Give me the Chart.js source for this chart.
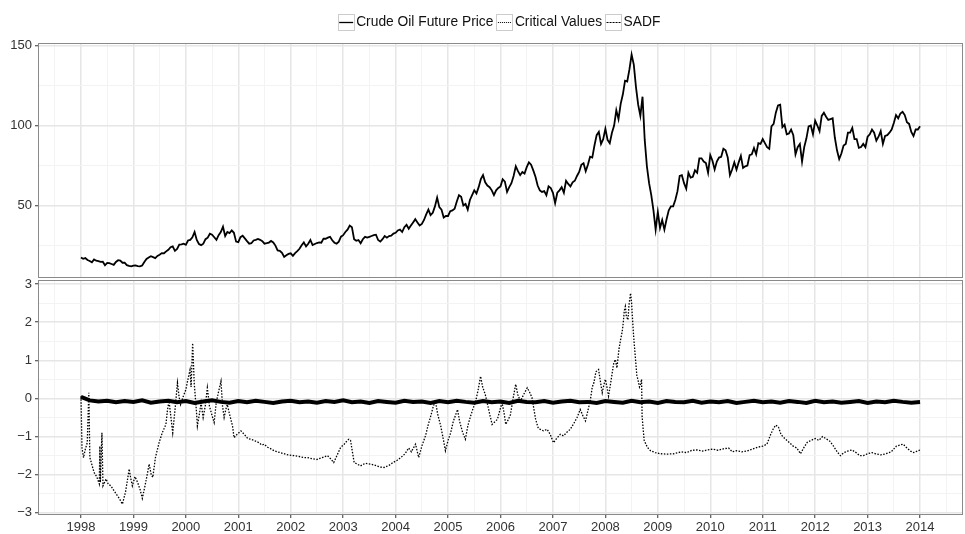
<!DOCTYPE html>
<html>
<head>
<meta charset="utf-8">
<script src="https://cdn.jsdelivr.net/npm/chart.js@4"></script>
<style>
html,body{margin:0;padding:0;background:#fff;}
#wrap{position:relative;width:965px;height:534px;overflow:hidden;}
canvas{position:absolute;left:0;}
#top{top:0;}
#bot{top:279px;}
</style>
</head>
<body>
<div id="wrap">
<canvas id="top" width="965" height="279"></canvas>
<canvas id="bot" width="965" height="255"></canvas>
</div>
<script>
// ---------- DATA ----------
const seriesNames = ['Crude Oil Future Price', 'Critical Values', 'SADF'];
const yearTicks = [1998,1999,2000,2001,2002,2003,2004,2005,2006,2007,2008,2009,2010,2011,2012,2013,2014];
const priceTicksMajor = [50, 100, 150];
const priceTicksMinor = [25, 75, 125];
const sadfTicksMajor = [-3, -2, -1, 0, 1, 2, 3];
const sadfTicksMinor = [-2.5, -1.5, -0.5, 0.5, 1.5, 2.5];

// Crude oil price, two readings per month (start / middle), Jan 1998 .. Dec 2013, plus Jan 2014
const priceStartYear = 1998;
const priceReadingsPerYear = 24;
const priceValues = [
  17.6,16.8,17.2,16.0,15.4,14.6,16.4,15.6,15.3,14.8,14.9,12.7,14.2,14.0,13.5,13.0,14.8,15.9,15.6,14.3,14.4,12.8,12.3,12.0,
  12.5,12.6,12.2,12.0,12.6,14.8,16.7,17.6,18.4,17.8,17.2,18.6,19.3,20.3,20.2,21.4,22.4,24.0,24.5,21.7,22.9,25.6,25.8,26.2,
  25.5,28.2,28.6,30.2,33.5,28.5,26.0,25.3,26.2,29.0,30.0,32.4,31.8,30.2,28.6,31.5,33.5,36.8,31.0,33.5,32.8,34.5,33.0,27.5,
  27.2,30.3,31.2,29.5,27.8,26.2,26.5,28.2,28.6,29.2,28.6,27.8,26.2,26.5,26.9,27.9,27.0,25.0,22.0,21.8,20.5,18.0,19.0,19.8,
  20.2,18.6,20.3,21.5,23.0,25.2,27.0,24.5,26.2,28.5,25.3,26.0,26.6,27.0,26.8,29.4,29.3,30.0,30.5,28.3,26.8,26.2,27.5,30.6,
  31.5,33.5,35.0,37.5,36.5,29.0,28.0,28.5,26.5,29.0,30.5,30.0,30.5,31.0,31.5,31.8,28.5,27.5,29.0,31.0,30.0,31.0,31.2,32.5,
  33.0,34.5,35.0,33.5,36.5,38.0,35.5,37.5,39.5,41.5,39.5,37.5,38.5,41.0,44.5,47.5,44.0,45.5,49.5,55.0,49.0,47.5,42.5,43.5,
  43.5,46.5,47.0,48.0,52.5,56.5,55.5,50.0,51.0,47.5,53.5,56.5,59.5,57.5,61.5,66.5,69.0,64.5,62.5,61.5,59.5,56.5,59.5,61.0,
  62.0,66.5,65.0,58.5,61.5,64.0,68.5,74.5,71.5,69.0,71.0,70.0,74.0,77.0,75.5,72.0,68.0,62.5,59.5,58.5,59.0,56.5,62.0,61.0,
  58.0,51.5,58.0,59.5,61.5,58.0,65.5,63.5,62.0,64.5,65.5,68.5,71.0,75.5,76.5,71.5,75.5,80.5,80.0,87.5,94.0,96.0,88.5,91.5,
  98.0,91.0,89.0,95.5,100.0,109.5,104.0,113.5,119.5,128.0,127.5,135.0,144.3,138.0,124.0,113.0,106.0,118.0,91.0,74.5,64.0,56.5,47.0,35.0,
  46.0,36.0,41.0,35.0,41.5,47.0,49.5,49.5,53.5,59.0,68.5,69.0,64.0,60.5,70.5,67.5,68.0,72.0,70.5,79.5,79.5,77.5,76.5,70.5,
  81.5,78.0,72.5,77.5,80.0,80.5,85.5,84.5,80.0,69.0,72.5,77.0,72.5,77.0,81.0,73.5,74.5,75.0,81.5,82.0,86.0,82.0,89.0,88.5,
  91.5,89.0,86.5,85.5,99.5,101.0,108.0,112.5,113.0,99.0,100.5,94.5,95.0,97.5,94.0,82.0,86.5,88.5,77.5,86.5,92.0,99.5,100.0,94.5,
  103.0,100.0,96.5,106.0,108.0,105.5,103.5,104.0,104.5,92.5,84.5,79.0,82.5,87.5,88.5,95.5,95.5,98.5,91.5,91.5,86.0,86.5,88.5,86.5,
  93.0,94.5,97.5,95.5,90.5,93.0,96.5,88.5,93.5,94.0,95.5,97.5,101.5,106.5,104.5,107.5,108.5,106.5,102.0,101.0,96.0,93.5,97.5,97.5,
  99.5
];

// Critical values, one reading every two months, 1998.0 .. 2014.0
const critStartYear = 1998;
const critReadingsPerYear = 6;
const critValues = [
  0.04,-0.05,-0.08,-0.06,-0.10,-0.07,
  -0.09,-0.05,-0.11,-0.08,-0.06,-0.10,
  -0.07,-0.12,-0.08,-0.05,-0.09,-0.11,
  -0.07,-0.10,-0.06,-0.09,-0.12,-0.08,
  -0.06,-0.10,-0.08,-0.11,-0.07,-0.09,
  -0.05,-0.10,-0.08,-0.12,-0.07,-0.09,
  -0.11,-0.06,-0.09,-0.08,-0.12,-0.07,
  -0.10,-0.06,-0.09,-0.11,-0.07,-0.10,
  -0.08,-0.12,-0.06,-0.09,-0.10,-0.07,
  -0.11,-0.08,-0.06,-0.10,-0.09,-0.12,
  -0.07,-0.09,-0.11,-0.06,-0.10,-0.08,
  -0.12,-0.07,-0.09,-0.10,-0.06,-0.11,
  -0.08,-0.10,-0.07,-0.12,-0.09,-0.06,
  -0.10,-0.08,-0.11,-0.07,-0.09,-0.12,
  -0.06,-0.10,-0.08,-0.11,-0.09,-0.07,
  -0.12,-0.08,-0.10,-0.06,-0.09,-0.11,
  -0.09
];

// SADF statistic
const sadfDates = [
  1998.00,1998.02,1998.05,1998.08,1998.12,1998.15,1998.17,1998.25,1998.30,1998.35,1998.36,1998.37,1998.40,1998.42,1998.48,1998.52,1998.57,1998.62,1998.67,1998.73,1998.79,1998.85,1998.92,1998.95,1998.98,
  1999.03,1999.08,1999.13,1999.17,1999.22,1999.27,1999.30,1999.34,1999.37,1999.42,1999.49,1999.55,1999.62,1999.65,1999.68,1999.72,1999.75,1999.80,1999.84,1999.87,1999.90,1999.95,
  2000.00,2000.04,2000.08,2000.10,2000.13,2000.16,2000.20,2000.22,2000.26,2000.29,2000.33,2000.37,2000.41,2000.45,2000.50,2000.54,2000.58,2000.62,2000.67,2000.70,2000.73,2000.76,2000.79,2000.84,2000.89,2000.92,2000.97,
  2001.05,2001.12,2001.18,2001.24,2001.30,2001.38,2001.45,2001.49,2001.56,2001.62,2001.68,2001.75,2001.85,2001.95,
  2002.06,2002.15,2002.25,2002.32,2002.40,2002.50,2002.60,2002.70,2002.76,2002.82,2002.88,2002.95,
  2003.02,2003.08,2003.11,2003.14,2003.21,2003.27,2003.33,2003.42,2003.52,2003.60,2003.70,2003.78,2003.88,2003.95,
  2004.03,2004.10,2004.18,2004.25,2004.30,2004.38,2004.44,2004.50,2004.57,2004.62,2004.67,2004.72,2004.76,2004.80,2004.86,2004.90,2004.95,
  2005.00,2005.05,2005.10,2005.14,2005.18,2005.22,2005.28,2005.33,2005.38,2005.43,2005.48,2005.52,2005.57,2005.62,2005.66,2005.71,2005.76,2005.80,2005.84,2005.90,2005.94,
  2006.00,2006.03,2006.07,2006.10,2006.15,2006.19,2006.24,2006.29,2006.33,2006.38,2006.44,2006.51,2006.56,2006.60,2006.67,2006.72,2006.76,2006.82,2006.89,2006.95,
  2007.01,2007.07,2007.14,2007.20,2007.27,2007.33,2007.40,2007.46,2007.52,2007.57,2007.62,2007.67,2007.71,2007.75,2007.78,2007.82,2007.87,2007.91,2007.94,2007.97,
  2008.00,2008.03,2008.06,2008.10,2008.13,2008.16,2008.19,2008.22,2008.26,2008.29,2008.32,2008.34,2008.36,2008.38,2008.40,2008.43,2008.45,2008.48,2008.50,2008.51,2008.54,2008.57,2008.60,2008.62,2008.65,2008.67,2008.69,2008.70,2008.72,2008.74,2008.76,2008.80,2008.86,2008.95,
  2009.05,2009.17,2009.30,2009.45,2009.55,2009.65,2009.75,2009.85,2009.95,
  2010.05,2010.15,2010.25,2010.35,2010.42,2010.50,2010.60,2010.70,2010.80,2010.90,
  2011.00,2011.08,2011.15,2011.20,2011.25,2011.30,2011.35,2011.42,2011.50,2011.58,2011.65,2011.72,2011.78,2011.85,2011.92,
  2012.00,2012.07,2012.14,2012.20,2012.28,2012.35,2012.42,2012.48,2012.55,2012.62,2012.70,2012.78,2012.85,2012.92,
  2013.00,2013.08,2013.15,2013.25,2013.35,2013.45,2013.55,2013.62,2013.68,2013.75,2013.82,2013.88,2013.95,2014.00
];
const sadfValues = [
  0.06,-1.30,-1.55,-1.35,-1.16,0.15,-1.55,-1.94,-2.05,-2.24,-1.25,-2.20,-0.90,-2.29,-2.11,-2.25,-2.29,-2.40,-2.50,-2.62,-2.77,-2.45,-1.85,-2.10,-2.29,
  -2.05,-2.20,-2.40,-2.62,-2.30,-1.95,-1.72,-2.00,-2.07,-1.55,-1.16,-0.90,-0.68,-0.30,-0.07,-0.55,-0.90,-0.20,0.41,0.05,-0.16,0.05,
  0.23,0.50,0.75,0.30,1.45,0.40,-0.30,-0.72,-0.40,-0.11,-0.50,-0.20,0.28,-0.20,-0.45,-0.63,-0.10,0.15,0.45,-0.20,-0.50,-0.30,-0.16,-0.45,-0.72,-1.03,-0.95,
  -0.85,-0.95,-1.05,-1.07,-1.10,-1.15,-1.22,-1.20,-1.28,-1.32,-1.37,-1.40,-1.44,-1.48,
  -1.50,-1.52,-1.55,-1.55,-1.58,-1.60,-1.55,-1.50,-1.58,-1.68,-1.50,-1.29,
  -1.20,-1.10,-1.07,-1.10,-1.68,-1.72,-1.77,-1.70,-1.72,-1.75,-1.80,-1.81,-1.75,-1.68,
  -1.62,-1.55,-1.45,-1.30,-1.40,-1.20,-1.55,-1.25,-0.98,-0.70,-0.46,-0.20,-0.07,-0.40,-0.72,-1.00,-1.37,
  -1.10,-0.90,-0.60,-0.45,-0.29,-0.60,-0.90,-1.07,-0.70,-0.46,-0.25,-0.11,0.20,0.58,0.30,0.10,-0.20,-0.45,-0.68,-0.60,-0.55,
  -0.25,-0.11,-0.40,-0.68,-0.55,-0.42,0.00,0.37,0.10,-0.07,0.10,0.28,0.15,0.02,-0.55,-0.78,-0.81,-0.85,-0.81,-0.95,
  -1.16,-1.05,-0.94,-0.98,-0.88,-0.81,-0.65,-0.50,-0.29,-0.45,-0.59,-0.30,-0.07,0.30,0.41,0.70,0.76,0.40,0.15,0.35,
  0.50,0.30,0.06,0.40,0.67,0.93,1.02,0.80,1.30,1.54,1.75,1.97,2.30,2.41,2.15,2.06,2.45,2.76,2.50,2.24,1.60,1.10,0.60,0.50,0.30,0.37,0.50,-0.46,-0.80,-1.10,-1.16,-1.28,-1.37,-1.42,
  -1.45,-1.46,-1.45,-1.40,-1.42,-1.36,-1.35,-1.38,-1.35,
  -1.33,-1.36,-1.32,-1.30,-1.40,-1.37,-1.40,-1.38,-1.33,-1.28,
  -1.25,-1.20,-0.95,-0.80,-0.70,-0.75,-0.95,-1.05,-1.15,-1.25,-1.30,-1.45,-1.30,-1.15,-1.10,
  -1.05,-1.10,-1.00,-1.05,-1.12,-1.25,-1.40,-1.50,-1.42,-1.38,-1.35,-1.42,-1.50,-1.50,
  -1.45,-1.42,-1.45,-1.48,-1.45,-1.40,-1.25,-1.22,-1.20,-1.30,-1.38,-1.42,-1.38,-1.35
];

// ---------- STYLE / HELPERS ----------
const X_MIN = 1997.2, X_MAX = 2014.8;
const FONT = '"Liberation Sans", Arial, Helvetica, sans-serif';
const MAJOR_GRID = '#e6e6e6', MINOR_GRID = '#f3f3f3';
const xGridValues = [...yearTicks.map(y => y - 0.5), ...yearTicks, yearTicks[yearTicks.length-1] + 0.5].sort((a,b)=>a-b);

const priceData = priceValues.map((v,i) => ({x: priceStartYear + i / priceReadingsPerYear, y: v}));
const critData = critValues.map((v,i) => ({x: critStartYear + i / critReadingsPerYear, y: v}));
const sadfData = sadfValues.map((v,i) => ({x: sadfDates[i], y: v}));

function isIn(list, v){ return list.some(t => Math.abs(t - v) < 1e-9); }
function fmt(v){ return v < 0 ? '\u2212' + Math.abs(v) : String(v); }

function xScale(showLabels){
  return {
    type: 'linear', min: X_MIN, max: X_MAX,
    afterBuildTicks: s => { s.ticks = xGridValues.map(v => ({value: v})); },
    afterFit: s => { s.height = showLabels ? 20 : 0; s.paddingLeft = 0; s.paddingRight = 0; },
    border: {display: false},
    grid: {
      color: c => (c.tick && isIn(yearTicks, c.tick.value)) ? MAJOR_GRID : MINOR_GRID,
      lineWidth: c => (c.tick && isIn(yearTicks, c.tick.value)) ? 1.5 : 1,
      drawTicks: showLabels, tickLength: 4, tickWidth: 1,
      tickColor: c => (c.tick && isIn(yearTicks, c.tick.value)) ? '#333' : 'rgba(0,0,0,0)'
    },
    ticks: {
      display: showLabels, autoSkip: false, maxRotation: 0, minRotation: 0, padding: 2,
      color: '#333', font: {family: FONT, size: 13},
      callback: v => isIn(yearTicks, v) ? String(Math.round(v)) : ''
    }
  };
}
function yScale(min, max, majors, minors){
  const all = [...majors, ...minors].sort((a,b)=>a-b);
  return {
    type: 'linear', min: min, max: max,
    afterBuildTicks: s => { s.ticks = all.map(v => ({value: v})); },
    afterFit: s => { s.width = 39; s.paddingTop = 0; s.paddingBottom = 0; },
    border: {display: false},
    grid: {
      color: c => (c.tick && isIn(majors, c.tick.value)) ? MAJOR_GRID : MINOR_GRID,
      lineWidth: c => (c.tick && isIn(majors, c.tick.value)) ? 1.5 : 1,
      drawTicks: true, tickLength: 4, tickWidth: 1,
      tickColor: c => (c.tick && isIn(majors, c.tick.value)) ? '#333' : 'rgba(0,0,0,0)'
    },
    ticks: {
      autoSkip: false, padding: 3, color: '#333', font: {family: FONT, size: 13},
      callback: v => isIn(majors, v) ? fmt(v) : ''
    }
  };
}

const panelBorder = {
  id: 'panelBorder',
  afterDraw(chart){
    const {ctx, chartArea: a} = chart;
    ctx.save();
    ctx.strokeStyle = '#8a8a8a';
    ctx.lineWidth = 1;
    ctx.strokeRect(Math.round(a.left) - 0.5, Math.round(a.top) - 0.5, Math.round(a.width) + 1, Math.round(a.height) + 1);
    ctx.restore();
  }
};

const legendItems = [
  {label: seriesNames[0], dash: [], width: 1.3},
  {label: seriesNames[1], dash: [1, 1], width: 1},
  {label: seriesNames[2], dash: [2, 1], width: 1}
];
const legendPlugin = {
  id: 'ggLegend',
  afterDraw(chart){
    const ctx = chart.ctx;
    ctx.save();
    ctx.font = '13.8px ' + FONT;
    const box = 17, gapText = 1.5, gapItem = 3;
    let total = 0;
    legendItems.forEach((it, i) => {
      it.w = ctx.measureText(it.label).width;
      total += box + gapText + it.w + (i < legendItems.length - 1 ? gapItem : 0);
    });
    let x = 499 - total / 2;
    const top = 14, cy = top + box / 2;
    legendItems.forEach(it => {
      ctx.fillStyle = '#fff';
      ctx.fillRect(x, top, box, box);
      ctx.strokeStyle = '#cccccc';
      ctx.lineWidth = 1;
      ctx.setLineDash([]);
      ctx.strokeRect(Math.round(x) + 0.5, top + 0.5, box - 1, box - 1);
      ctx.strokeStyle = '#000';
      ctx.lineWidth = it.width;
      ctx.setLineDash(it.dash);
      ctx.beginPath();
      ctx.moveTo(x + 1.5, cy);
      ctx.lineTo(x + box - 1.5, cy);
      ctx.stroke();
      ctx.setLineDash([]);
      ctx.fillStyle = '#111';
      ctx.textBaseline = 'middle';
      ctx.textAlign = 'left';
      ctx.fillText(it.label, x + box + gapText, cy);
      x += box + gapText + it.w + gapItem;
    });
    ctx.restore();
  }
};

const common = {
  responsive: false, animation: false, devicePixelRatio: 1,
  plugins: {legend: {display: false}, tooltip: {enabled: false}},
  elements: {point: {radius: 0}, line: {tension: 0}}
};

new Chart(document.getElementById('top'), {
  type: 'line',
  data: {datasets: [{
    label: seriesNames[0], data: priceData,
    borderColor: '#000', borderWidth: 1.8, pointRadius: 0, fill: false
  }]},
  options: Object.assign({}, common, {
    layout: {padding: {top: 44, right: 3, bottom: 2, left: 0}},
    scales: {x: xScale(false), y: yScale(5.4, 150.9, priceTicksMajor, priceTicksMinor)}
  }),
  plugins: [panelBorder, legendPlugin]
});

new Chart(document.getElementById('bot'), {
  type: 'line',
  data: {datasets: [
    {label: seriesNames[2], data: sadfData, borderColor: '#000', borderWidth: 1.3,
     borderDash: [1.5, 1.5], pointRadius: 0, fill: false, order: 0},
    {label: seriesNames[1], data: critData, borderColor: '#000', borderWidth: 4,
     pointRadius: 0, fill: false, order: 1}
  ]},
  options: Object.assign({}, common, {
    layout: {padding: {top: 2, right: 3, bottom: 0, left: 0}},
    scales: {x: xScale(true), y: yScale(-3.03, 3.08, sadfTicksMajor, sadfTicksMinor)}
  }),
  plugins: [panelBorder]
});
</script>
</body>
</html>
